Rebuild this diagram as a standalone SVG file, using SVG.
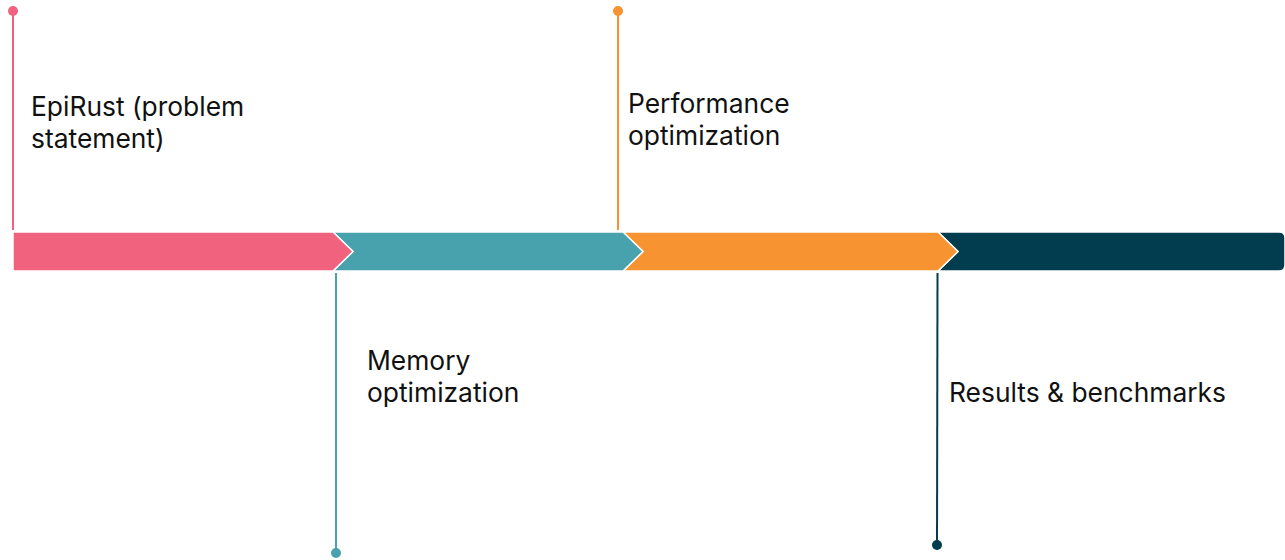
<svg xmlns="http://www.w3.org/2000/svg" width="1285" height="560" viewBox="0 0 1285 560">
<style>
.lbl{font-family:Inter,"Liberation Sans",sans-serif;font-size:26.4px;fill:#111}
.seg{stroke:#fff;stroke-width:1.5;stroke-linejoin:miter}
</style>
<rect width="1285" height="560" fill="#fff"/>
<g id="bar">
<path id="seg4" class="seg" fill="#023D4F" d="M938,232 H1279 Q1285,232 1285,238 V265 Q1285,271 1279,271 H938 L958,251.5 Z"/>
<path id="seg3" class="seg" fill="#F79331" d="M623,232 H938 L958,251.5 L938,271 H623 L643,251.5 Z"/>
<path id="seg2" class="seg" fill="#48A2AD" d="M333,232 H623 L643,251.5 L623,271 H333 L353,251.5 Z"/>
<path id="seg1" class="seg" fill="#F0627D" d="M13,232 H333 L353,251.5 L333,271 H13 Z"/>
</g>
<g id="connectors" stroke-width="2">
<line x1="13" y1="11" x2="13" y2="230" stroke="#F0627D"/>
<line x1="618" y1="11" x2="618" y2="230" stroke="#F79331"/>
<line x1="336" y1="273" x2="336" y2="553" stroke="#48A2AD"/>
<line x1="937.5" y1="273" x2="937" y2="545" stroke="#023D4F"/>
<circle cx="13" cy="11" r="5" fill="#F0627D"/>
<circle cx="618" cy="11" r="5" fill="#F79331"/>
<circle cx="336" cy="553" r="5" fill="#48A2AD"/>
<circle cx="937" cy="545" r="5" fill="#023D4F"/>
</g>
<g id="n1"><text class="lbl" x="31" y="116">EpiRust (problem</text><text class="lbl" x="31" y="148">statement)</text></g>
<g id="n2"><text class="lbl" x="367" y="370">Memory</text><text class="lbl" x="367" y="402">optimization</text></g>
<g id="n3"><text class="lbl" x="628" y="113">Performance</text><text class="lbl" x="628" y="145">optimization</text></g>
<g id="n4"><text class="lbl" x="949" y="402">Results &amp; benchmarks</text></g>
</svg>
